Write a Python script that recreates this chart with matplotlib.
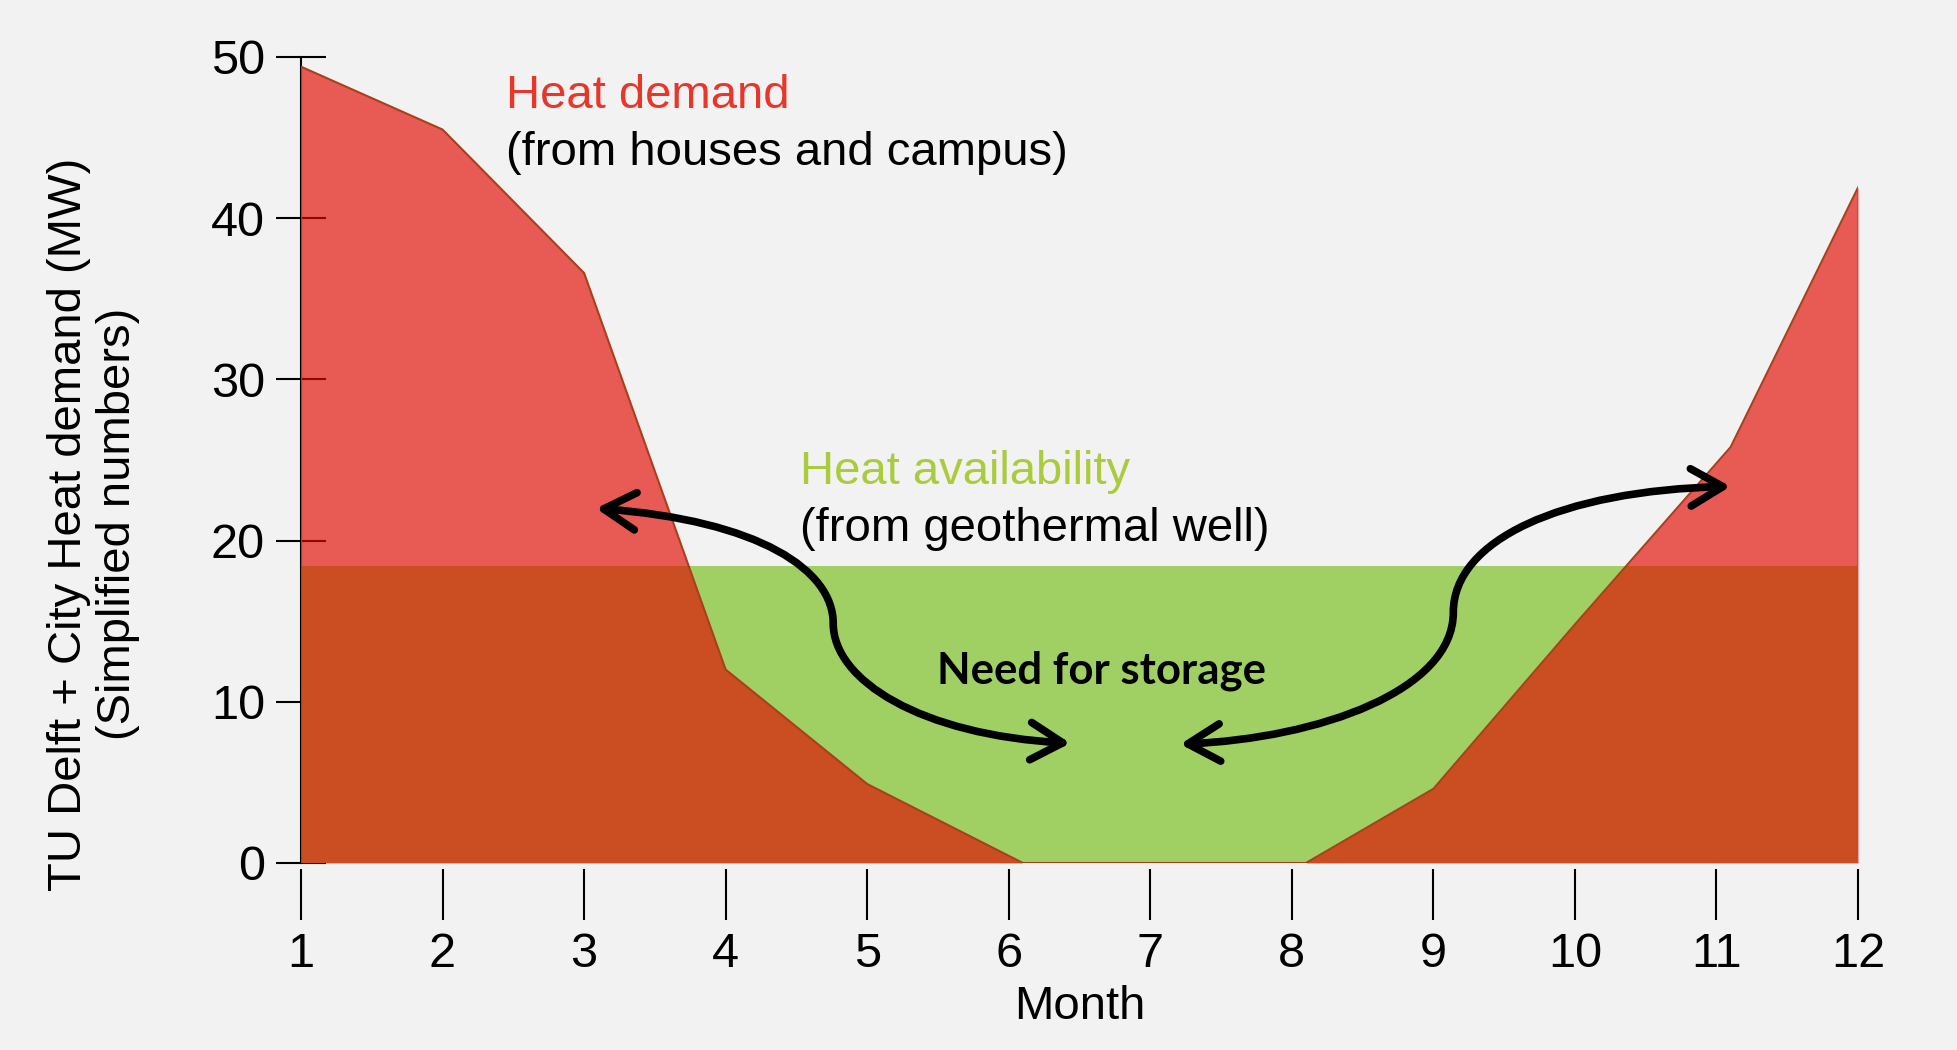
import matplotlib
matplotlib.use("Agg")
import matplotlib.pyplot as plt
from matplotlib.path import Path
from matplotlib.patches import FancyArrowPatch, ArrowStyle
import numpy as np

# ---- data ----
months = [1, 2, 3, 4, 5, 6.1, 7, 8.1, 9, 10, 11.1, 12]
heat_demand = [49.4, 45.5, 36.6, 12.0, 4.9, 0, 0, 0, 4.6, 14.8, 25.8, 41.9]
availability_months = [1, 12]
heat_availability = [18.4, 18.4]
xticks = list(range(1, 13))
yticks = [0, 10, 20, 30, 40, 50]

# arrow paths (data coords: month, MW)
left_arrow = [(3.085, 22.0), (4.244, 21.25), (4.76, 18.15), (4.76, 14.87),
              (4.76, 11.34), (5.375, 7.93), (6.435, 7.43)]
right_arrow = [(7.212, 7.37), (8.201, 7.74), (9.141, 10.72), (9.141, 15.55),
               (9.141, 20.01), (9.898, 23.11), (11.099, 23.36)]

BG = "#F2F2F2"
plt.rcParams['font.family'] = ['Liberation Sans', 'DejaVu Sans']

fig = plt.figure(figsize=(19.58, 10.5), dpi=100, facecolor=BG)
ax = fig.add_axes([301/1958, 1-863/1050, 1557/1958, 806/1050])
ax.set_facecolor(BG)

# availability (green)
ax.fill_between(availability_months, 0, heat_availability, color="#A0D064",
                linewidth=0, zorder=3)
# demand (red, translucent)
ax.fill_between(months, 0, heat_demand, color=(0.89, 0.03, 0.0), alpha=0.65,
                linewidth=0, zorder=4)
ax.plot(months, heat_demand, color="#A8401C", lw=1.5, zorder=5)
ax.plot([months[0], months[0]], [0, heat_demand[0]], color="#A8401C", lw=1.5, zorder=5)
ax.plot([months[-1], months[-1]], [0, heat_demand[-1]], color="#C0502C", lw=1.2, zorder=5)
ax.axhline(0, color="black", lw=1.5, zorder=2)

ax.set_xlim(1, 12)
ax.set_ylim(0, 50)
for s in ["top", "right"]:
    ax.spines[s].set_visible(False)
ax.spines["bottom"].set_position(("outward", 4.5))
ax.spines["bottom"].set_visible(False)
ax.spines["left"].set_linewidth(1.5)
ax.spines["left"].set_zorder(2)

ax.set_xticks(xticks)
ax.set_yticks(yticks)
ax.tick_params(axis="x", direction="out", length=37, width=1.5, pad=8,
               labelsize=35, colors="black")
ax.tick_params(axis="y", direction="inout", length=36, width=1.5, pad=8,
               labelsize=35, colors="black")
ax.set_xlabel("Month", fontsize=34, labelpad=6)

fig.text(93.5/1958, 1-524/1050,
         "TU Delft + City Heat demand (MW)\n(Simplified numbers)",
         rotation=90, ha="center", va="center", multialignment="center",
         fontsize=34, linespacing=1.15)

# annotations
ax.text(2.449, 46.84, "Heat demand", color="#E8362A", fontsize=34, va="baseline", zorder=6)
ax.text(2.449, 43.3, "(from houses and campus)", color="black", fontsize=34,
        va="baseline", zorder=6)
ax.text(4.527, 23.54, "Heat availability", color="#AACC3C", fontsize=34,
        va="baseline", zorder=6)
ax.text(4.527, 20.0, "(from geothermal well)", color="black", fontsize=34,
        va="baseline", zorder=6)
ax.text(6.657, 11.15, "Need for storage", color="black", fontsize=31.5,
        fontweight="bold", family=["Lato", "DejaVu Sans"], ha="center",
        va="baseline", zorder=6)

codes = [Path.MOVETO] + [Path.CURVE4] * 6
style = ArrowStyle("<->", head_length=0.55, head_width=0.32)
for pts in (left_arrow, right_arrow):
    p = FancyArrowPatch(path=Path(pts, codes), arrowstyle=style,
                        mutation_scale=42, lw=5.5, color="black",
                        capstyle="round", joinstyle="round",
                        transform=ax.transData, zorder=7)
    ax.add_patch(p)

fig.savefig("out.png", dpi=100, facecolor=BG)
